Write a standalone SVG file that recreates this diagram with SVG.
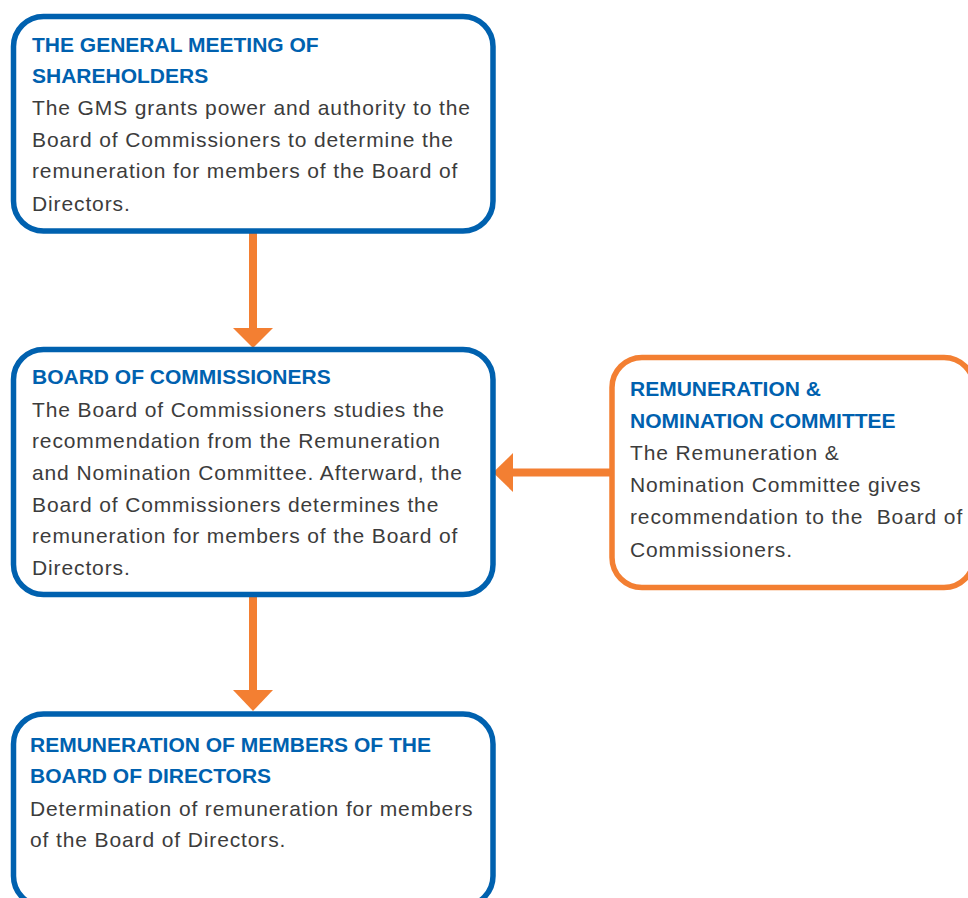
<svg xmlns="http://www.w3.org/2000/svg" width="968" height="898" viewBox="0 0 968 898">
<style>
.box{fill:#fff;stroke-width:5.5}
.blue{stroke:#0061AF}
.orange{stroke:#F37F32}
.t{font-family:"Liberation Sans",Arial,sans-serif;font-size:21px;font-weight:bold;fill:#0061AF}
.b{font-family:"Liberation Sans",Arial,sans-serif;font-size:21px;fill:#3C3C3C;letter-spacing:0.88px;white-space:pre}
.arr{fill:#F37F32}
</style>
<rect width="968" height="898" fill="#fff"/>
<g id="connectors">
<rect class="arr" x="249" y="233" width="8" height="96"/>
<polygon class="arr" points="233,328 273,328 253,348"/>
<rect class="arr" x="249" y="596" width="8" height="95"/>
<polygon class="arr" points="233,690 273,690 253,711"/>
<rect class="arr" x="512" y="468.5" width="101" height="8"/>
<polygon class="arr" points="513,453 513,492 493,472.5"/>
</g>
<g id="gms">
<rect class="box blue" x="13.5" y="16.5" width="479.5" height="214.5" rx="30"/>
<text class="t" x="32" y="51.7">THE GENERAL MEETING OF</text>
<text class="t" x="32" y="83">SHAREHOLDERS</text>
<text class="b" x="32" y="115">The GMS grants power and authority to the</text>
<text class="b" x="32" y="146.7">Board of Commissioners to determine the</text>
<text class="b" x="32" y="178.3">remuneration for members of the Board of</text>
<text class="b" x="32" y="210.7">Directors.</text>
</g>
<g id="boc">
<rect class="box blue" x="13.5" y="349.5" width="479.5" height="245" rx="30"/>
<text class="t" x="32" y="384.3">BOARD OF COMMISSIONERS</text>
<text class="b" x="32" y="416.7">The Board of Commissioners studies the</text>
<text class="b" x="32" y="448.3">recommendation from the Remuneration</text>
<text class="b" x="32" y="480">and Nomination Committee. Afterward, the</text>
<text class="b" x="32" y="511.7">Board of Commissioners determines the</text>
<text class="b" x="32" y="543.3">remuneration for members of the Board of</text>
<text class="b" x="32" y="575">Directors.</text>
</g>
<g id="rnc">
<rect class="box orange" x="612" y="357.5" width="362" height="230" rx="30"/>
<text class="t" x="630" y="396">REMUNERATION &amp;</text>
<text class="t" x="630" y="428.3">NOMINATION COMMITTEE</text>
<text class="b" x="630" y="460">The Remuneration &amp;</text>
<text class="b" x="630" y="492.3">Nomination Committee gives</text>
<text class="b" x="630" y="524.3">recommendation to the  Board of</text>
<text class="b" x="630" y="556.7">Commissioners.</text>
</g>
<g id="rem">
<rect class="box blue" x="13.5" y="714" width="479.5" height="192" rx="30"/>
<text class="t" x="30" y="751.7">REMUNERATION OF MEMBERS OF THE</text>
<text class="t" x="30" y="783.3">BOARD OF DIRECTORS</text>
<text class="b" x="30" y="816">Determination of remuneration for members</text>
<text class="b" x="30" y="847.3">of the Board of Directors.</text>
</g>
</svg>
